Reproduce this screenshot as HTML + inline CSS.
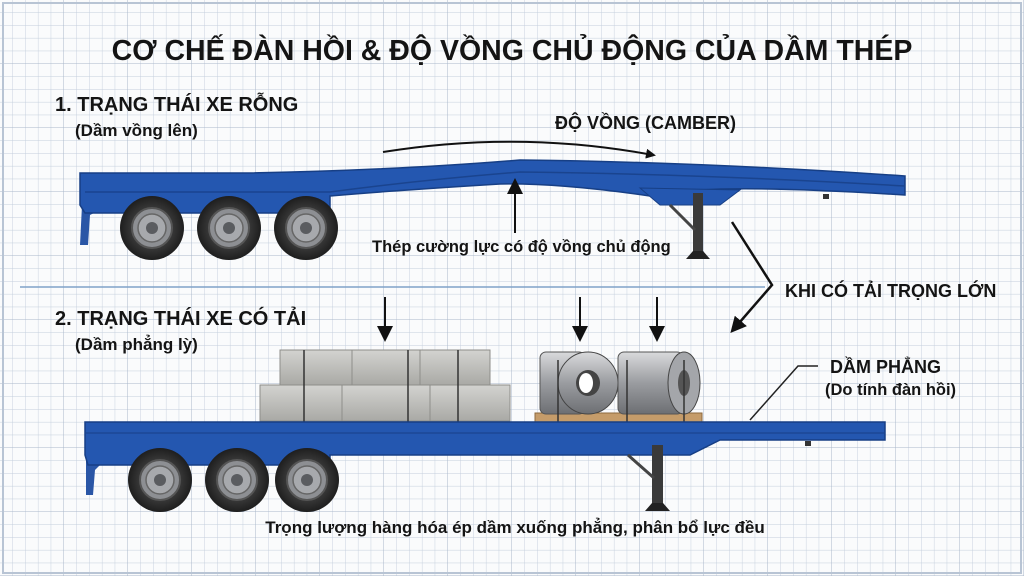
<!DOCTYPE html>
<html><head><meta charset="utf-8"><style>
html,body{margin:0;padding:0;background:#fff}
svg{display:block}
text{font-family:"Liberation Sans","DejaVu Sans",sans-serif;font-weight:bold;fill:#141414}
</style></head><body>
<svg width="1024" height="576" viewBox="0 0 1024 576" xmlns="http://www.w3.org/2000/svg">
<defs>
<pattern id="g" width="12.8" height="12.8" patternUnits="userSpaceOnUse">
<path d="M12.8 0V12.8H0" fill="none" stroke="#c3cedc" stroke-width="0.9"/></pattern>
<pattern id="G" width="64" height="64" patternUnits="userSpaceOnUse">
<path d="M64 0V64H0" fill="none" stroke="#a9b7ca" stroke-width="1"/></pattern>
<radialGradient id="tire" cx="50%" cy="50%" r="50%"><stop offset="0.6" stop-color="#3a3a3a"/><stop offset="1" stop-color="#1e1e1e"/></radialGradient>
<linearGradient id="coil" x1="0" y1="0" x2="0" y2="1"><stop offset="0" stop-color="#d9dadc"/><stop offset="0.5" stop-color="#9a9ca0"/><stop offset="1" stop-color="#6d6f73"/></linearGradient>
<linearGradient id="conc" x1="0" y1="0" x2="0" y2="1"><stop offset="0" stop-color="#d3d3d0"/><stop offset="1" stop-color="#a9a9a5"/></linearGradient>
<marker id="ah" markerWidth="10" markerHeight="10" refX="7" refY="5" orient="auto" markerUnits="userSpaceOnUse"><path d="M0 0L10 5L0 10z" fill="#111"/></marker>
<marker id="ahb" markerWidth="16" markerHeight="16" refX="12" refY="8" orient="auto" markerUnits="userSpaceOnUse"><path d="M0 0L16 8L0 16z" fill="#111"/></marker>
<g id="wheel">
<circle r="32" fill="url(#tire)"/>
<circle r="20" fill="#8d8f93" stroke="#555" stroke-width="2"/>
<circle r="14" fill="#a7a9ad" stroke="#666" stroke-width="1.5"/>
<circle r="6" fill="#5a5c60"/>
</g>
</defs>
<rect width="1024" height="576" fill="#fafbfc"/>
<rect width="1024" height="576" fill="url(#g)"/>
<rect width="1024" height="576" fill="url(#G)"/>
<rect x="3" y="3" width="1018" height="570" fill="none" stroke="#b8c4d4" stroke-width="2"/>

<text x="512" y="60" font-size="28.5" text-anchor="middle">CƠ CHẾ ĐÀN HỒI &amp; ĐỘ VỒNG CHỦ ĐỘNG CỦA DẦM THÉP</text>
<text x="55" y="111" font-size="20">1. TRẠNG THÁI XE RỖNG</text>
<text x="75" y="136" font-size="17">(Dầm vồng lên)</text>
<text x="555" y="129" font-size="18">ĐỘ VỒNG (CAMBER)</text>
<path d="M383 152 Q520 130 653 155" fill="none" stroke="#111" stroke-width="2" marker-end="url(#ah)"/>

<!-- trailer 1 -->
<path d="M110 205 L90 215 L88 245 L80 245 L82 205z" fill="#2a56a6"/>
<path d="M80 173 L250 173 Q400 170 520 160 Q700 162 905 176 L905 195 Q760 186 700 190 L650 196 Q560 183 500 184 Q400 190 330 196 L330 213 L85 213 L80 205z" fill="#2457b0" stroke="#173f85" stroke-width="1.5"/>
<path d="M85 192 L330 192 Q420 180 520 172 Q700 174 905 186" fill="none" stroke="#1a448f" stroke-width="1.5"/>
<path d="M640 188 L660 205 L720 205 L740 190z" fill="#2457b0" stroke="#173f85"/>
<rect x="693" y="193" width="10" height="60" fill="#3a3a3a"/>
<path d="M686 259 L710 259 L703 251 L693 251z" fill="#222"/>
<line x1="670" y1="205" x2="695" y2="230" stroke="#444" stroke-width="3"/>
<rect x="823" y="194" width="6" height="5" fill="#333"/>
<use href="#wheel" x="152" y="228"/>
<use href="#wheel" x="229" y="228"/>
<use href="#wheel" x="306" y="228"/>
<line x1="515" y1="233" x2="515" y2="182" stroke="#111" stroke-width="2" marker-end="url(#ahb)"/>
<text x="372" y="252" font-size="16.5">Thép cường lực có độ vồng chủ động</text>

<line x1="20" y1="287" x2="765" y2="287" stroke="#7fa2c8" stroke-width="1.5"/>
<path d="M732 222 L772 285 L733 330" fill="none" stroke="#111" stroke-width="2.5" marker-end="url(#ahb)"/>
<text x="785" y="297" font-size="18">KHI CÓ TẢI TRỌNG LỚN</text>

<text x="55" y="325" font-size="20">2. TRẠNG THÁI XE CÓ TẢI</text>
<text x="75" y="350" font-size="17">(Dầm phẳng lỳ)</text>
<line x1="385" y1="297" x2="385" y2="338" stroke="#111" stroke-width="2" marker-end="url(#ahb)"/>
<line x1="580" y1="297" x2="580" y2="338" stroke="#111" stroke-width="2" marker-end="url(#ahb)"/>
<line x1="657" y1="297" x2="657" y2="338" stroke="#111" stroke-width="2" marker-end="url(#ahb)"/>

<!-- concrete -->
<g fill="url(#conc)" stroke="#8e8e8a" stroke-width="1">
<rect x="280" y="350" width="72" height="35"/><rect x="352" y="350" width="68" height="35"/><rect x="420" y="350" width="70" height="35"/>
<rect x="260" y="385" width="82" height="36"/><rect x="342" y="385" width="88" height="36"/><rect x="430" y="385" width="80" height="36"/>
</g>
<!-- coils -->
<rect x="535" y="413" width="167" height="9" fill="#c59c6a" stroke="#8d6a3e"/>
<rect x="540" y="352" width="45" height="62" rx="6" fill="url(#coil)" stroke="#555"/>
<ellipse cx="588" cy="383" rx="30" ry="31" fill="url(#coil)" stroke="#444"/>
<ellipse cx="588" cy="383" rx="12" ry="13" fill="#444"/><ellipse cx="586" cy="383" rx="7" ry="10" fill="#fff"/>
<rect x="618" y="352" width="65" height="62" rx="6" fill="url(#coil)" stroke="#555"/>
<ellipse cx="684" cy="383" rx="16" ry="31" fill="#a4a6aa" stroke="#444"/>
<ellipse cx="684" cy="383" rx="6" ry="13" fill="#555"/>
<g stroke="#333" stroke-width="1.5"><line x1="304" y1="350" x2="304" y2="435"/><line x1="408" y1="350" x2="408" y2="435"/><line x1="458" y1="350" x2="458" y2="435"/><line x1="558" y1="360" x2="558" y2="435"/><line x1="627" y1="360" x2="627" y2="435"/><line x1="684" y1="360" x2="684" y2="435"/></g>

<!-- trailer 2 -->
<path d="M110 455 L95 470 L93 495 L86 495 L86 455z" fill="#2a56a6"/>
<path d="M85 422 L885 422 L885 440 L720 440 L690 455 L600 455 L330 455 L330 465 L88 465 L85 455z" fill="#2457b0" stroke="#173f85" stroke-width="1.5"/>
<line x1="85" y1="433" x2="885" y2="433" stroke="#1a448f" stroke-width="1.2"/>
<rect x="652" y="445" width="11" height="60" fill="#3a3a3a"/>
<path d="M645 511 L670 511 L663 503 L652 503z" fill="#222"/>
<line x1="628" y1="455" x2="654" y2="478" stroke="#444" stroke-width="3"/>
<rect x="805" y="441" width="6" height="5" fill="#333"/>
<use href="#wheel" x="160" y="480"/>
<use href="#wheel" x="237" y="480"/>
<use href="#wheel" x="307" y="480"/>

<path d="M750 420 L798 366 L818 366" fill="none" stroke="#222" stroke-width="1.5"/>
<text x="830" y="373" font-size="18">DẦM PHẲNG</text>
<text x="825" y="395" font-size="16.5">(Do tính đàn hồi)</text>
<text x="515" y="533" font-size="17" text-anchor="middle">Trọng lượng hàng hóa ép dầm xuống phẳng, phân bổ lực đều</text>
</svg>
</body></html>
